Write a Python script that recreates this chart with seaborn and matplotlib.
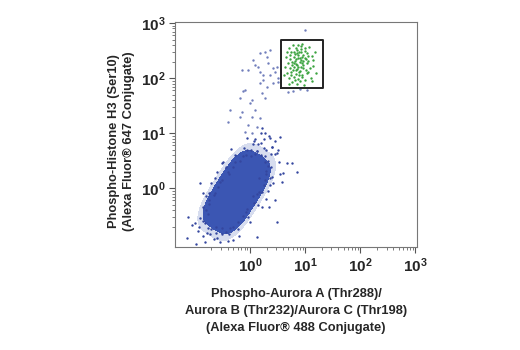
import matplotlib
matplotlib.use("Agg")
import numpy as np
import pandas as pd
import seaborn as sns
import matplotlib.pyplot as plt
from matplotlib.colors import ListedColormap
from matplotlib.ticker import FixedLocator, FuncFormatter, NullFormatter
from matplotlib import font_manager

# ---------------- data (log10 fluorescence) ----------------
# dense G1/G2 population core (representative events)
core_log_x = [-0.68, -0.32, -0.50, -0.55, -0.19, -0.37, -0.42, -0.24, -0.06,
              -0.29, -0.11, 0.07, -0.16, 0.02, 0.20]
core_log_y = [-0.37, -0.60, -0.49, -0.17, -0.39, -0.28, 0.04, -0.07, -0.18,
              0.25, 0.14, 0.03, 0.46, 0.35, 0.23]

# sparse events scattered around the main population
halo_events = [
    (0.26, 0.73), (0.37, 0.91), (0.28, 0.59), (0.40, 0.75), (0.55, 0.93),
    (0.33, 0.50), (0.46, 0.63), (0.29, 0.32), (0.39, 0.39), (0.52, 0.48),
    (0.27, 0.15), (0.36, 0.19), (0.54, 0.26), (0.16, -0.06), (0.22, -0.06),
    (0.32, -0.05), (0.07, -0.26), (0.14, -0.31), (0.21, -0.35), (-0.08, -0.44),
    (-0.04, -0.53), (0.00, -0.61), (-0.21, -0.62), (-0.21, -0.75), (-0.20, -0.87),
    (-0.36, -0.72), (-0.38, -0.84), (-0.40, -0.96), (-0.50, -0.83), (-0.55, -0.97),
    (-0.61, -0.82), (-0.66, -0.93), (-0.72, -0.84), (-0.81, -0.98), (-0.76, -0.73),
    (-0.86, -0.86), (-0.98, -1.01), (-0.81, -0.64), (-0.94, -0.77), (-0.77, -0.46),
    (-0.90, -0.55), (-1.05, -0.66), (-0.75, -0.29), (-0.86, -0.34), (-0.64, -0.08),
    (-0.74, -0.09), (-0.85, -0.09), (-0.55, 0.12), (-0.63, 0.18), (-0.40, 0.30),
    (-0.44, 0.39), (-0.48, 0.47), (-0.27, 0.48), (-0.27, 0.61), (-0.12, 0.58),
    (-0.10, 0.73), (-0.06, 0.92), (0.02, 0.69), (0.08, 0.86), (0.13, 0.68),
    (0.20, 0.83), (0.28, 1.01), (-1.13, -0.53), (-1.00, -0.64), (-1.15, -0.91),
    (-0.91, 0.09), (0.13, -0.89), (0.49, -0.62), (0.49, 0.64), (0.67, 0.45),
    (0.76, 0.45), (0.85, 0.29), (0.60, 0.27), (0.58, 0.11), (0.36, 0.05),
    (0.45, -0.22), (0.20, 1.00), (0.25, 0.90), (0.15, 0.80), (0.35, 0.95),
    (0.10, 0.90), (0.05, 0.80), (0.40, 0.75), (0.45, 0.85), (0.22, 1.10),
    (-0.05, 0.70), (0.30, 0.70), (0.38, 0.62), (0.50, 0.70), (0.12, 0.68),
    (-0.60, 0.30), (-0.50, 0.45), (-0.70, 0.10), (-0.35, 0.72), (-0.80, -0.15),
    (-0.30, -0.95), (-0.60, -0.90), (0.30, -0.20), (0.35, -0.35), (0.40, 0.20),
    (-0.70, -0.75), (-0.62, -0.70), (-0.50, -0.72), (-0.44, -0.80), (-0.30, -0.70),
    (-0.12, -0.50), (-0.05, -0.38), (0.05, -0.15), (0.12, -0.10), (0.25, 0.05),
    (0.30, 0.25), (0.32, 0.40), (0.28, 0.48), (0.20, 0.60), (0.10, 0.62),
    (0.02, 0.58), (-0.08, 0.60), (-0.18, 0.50), (-0.30, 0.38), (-0.38, 0.25),
    (-0.50, 0.15), (-0.58, 0.02), (-0.66, -0.12), (-0.74, -0.22), (-0.80, -0.40),
    (-0.85, -0.60), (-0.78, -0.82), (-0.92, -0.70), (0.17, 0.18), (0.42, 0.10),
]

# mitotic tail rising toward the gated population
tail_events = [
    (-0.40, 1.20), (-0.15, 1.38), (-0.36, 1.42), (-0.18, 1.64), (-0.09, 1.78),
    (-0.13, 1.76), (0.04, 1.60), (0.00, 1.55), (0.18, 1.91), (0.24, 1.96),
    (0.15, 2.20), (0.18, 2.45), (0.27, 2.47), (0.31, 2.38), (0.36, 2.51),
    (0.33, 2.27), (0.42, 2.18), (0.45, 2.11), (0.49, 2.20), (0.51, 2.00),
    (0.51, 1.93), (-0.15, 2.15), (-0.04, 2.15), (0.09, 2.24), (0.05, 2.33),
    (0.18, 2.11), (0.24, 2.05), (0.36, 2.05), (0.31, 1.84), (0.42, 1.91),
    (0.22, 1.73), (0.27, 1.64), (0.09, 1.42), (0.04, 1.29), (-0.04, 1.15),
    (0.13, 1.11), (0.18, 1.27), (-0.09, 1.02), (-0.18, 1.29), (0.04, 1.00),
    (0.69, 1.75), (1.04, 1.78), (0.91, 1.80), (1.00, 2.87), (0.78, 1.77),
]

# events inside the gate (phospho-H3+ / phospho-Aurora+)
gate_events = [
    (0.70, 2.55), (0.78, 2.60), (0.85, 2.52), (0.92, 2.58), (1.00, 2.50), (1.08, 2.56),
    (0.74, 2.47), (0.82, 2.44), (0.89, 2.48), (0.96, 2.42), (1.03, 2.45), (1.12, 2.40),
    (0.66, 2.38), (0.73, 2.35), (0.80, 2.39), (0.87, 2.36), (0.93, 2.33), (0.99, 2.37),
    (1.06, 2.31), (0.69, 2.27), (0.76, 2.30), (0.84, 2.26), (0.90, 2.29), (0.97, 2.24),
    (1.04, 2.27), (1.14, 2.22), (0.72, 2.19), (0.79, 2.21), (0.86, 2.17), (0.92, 2.20),
    (1.01, 2.15), (1.09, 2.18), (0.68, 2.10), (0.75, 2.12), (0.83, 2.08), (0.89, 2.11),
    (0.95, 2.06), (1.03, 2.09), (0.71, 2.01), (0.80, 2.03), (0.87, 1.99), (0.94, 2.02),
    (1.00, 1.96), (1.10, 2.00), (0.77, 1.93), (0.85, 1.90), (0.91, 1.94), (0.98, 1.88),
    (0.83, 2.55), (0.95, 2.62), (0.88, 2.42), (0.81, 2.32), (0.94, 2.38), (0.86, 2.24),
    (0.78, 2.15), (0.91, 2.13), (0.97, 2.31), (0.84, 2.34), (0.76, 2.24), (0.89, 2.05),
    (1.06, 2.40), (1.15, 2.33), (0.64, 2.20), (0.73, 2.42), (0.99, 2.55), (0.80, 2.48),
    (0.93, 2.47), (0.87, 2.60), (1.05, 2.12), (0.74, 2.06), (0.82, 1.97), (0.96, 2.18),
    (1.02, 2.35), (0.90, 2.37), (0.85, 2.45), (0.79, 2.27), (0.95, 2.27), (0.88, 2.20),
    (0.83, 2.14), (0.92, 2.53), (1.18, 2.47), (0.67, 2.48), (1.20, 2.10), (0.62, 2.05),
    (1.12, 1.95), (0.70, 1.90),
]

gate_x = [3.6, 21.0]     # gate bounds on x (linear units)
gate_y = [66.0, 500.0]   # gate bounds on y (linear units)

x_major = [1, 10, 100, 1000]
y_major = [1, 10, 100, 1000]

x_label = "Phospho-Aurora A (Thr288)/\nAurora B (Thr232)/Aurora C (Thr198)\n(Alexa Fluor\u00ae 488 Conjugate)"
y_label = "Phospho-Histone H3 (Ser10)\n(Alexa Fluor\u00ae 647 Conjugate)"

# ---------------- style ----------------
sns.set_style("ticks")

def has_font(name):
    try:
        font_manager.findfont(font_manager.FontProperties(family=name), fallback_to_default=False)
        return True
    except Exception:
        return False

main_font = "Liberation Sans Narrow" if has_font("Liberation Sans Narrow") else "Liberation Sans"
plt.rcParams['font.family'] = [main_font, 'DejaVu Sans']
plt.rcParams['mathtext.fontset'] = 'custom'
plt.rcParams['mathtext.rm'] = main_font + ':bold'
plt.rcParams['mathtext.it'] = main_font + ':bold'
plt.rcParams['mathtext.bf'] = main_font + ':bold'

BLUE_CORE = "#3b56b3"
BLUE_DOT = "#34469f"
GREEN = "#3aa33f"

def to_df(events):
    arr = np.array(events, dtype=float)
    return pd.DataFrame({"x": 10 ** arr[:, 0], "y": 10 ** arr[:, 1]})

core_df = pd.DataFrame({"x": 10 ** np.array(core_log_x), "y": 10 ** np.array(core_log_y)})
halo_df = to_df(halo_events)
tail_df = to_df(tail_events)
gate_df = to_df(gate_events)

fig = plt.figure(figsize=(5.2, 3.5), dpi=100)
ax = fig.add_axes([0.3365, 0.294, 0.4654, 0.643])

# faint fringe of the population, then the dense core
sns.kdeplot(data=core_df, x="x", y="y", log_scale=True, fill=True, bw_adjust=1.1,
            levels=[0.05, 1.0], cmap=ListedColormap([BLUE_CORE]), alpha=0.2, ax=ax)
sns.kdeplot(data=core_df, x="x", y="y", log_scale=True, fill=True, bw_adjust=1.1,
            levels=[0.13, 1.0], cmap=ListedColormap([BLUE_CORE]), ax=ax)
sns.scatterplot(data=halo_df, x="x", y="y", s=3, color=BLUE_DOT, linewidth=0, ax=ax)
sns.scatterplot(data=tail_df, x="x", y="y", s=3, color=BLUE_DOT, linewidth=0, alpha=0.7, ax=ax)
sns.scatterplot(data=gate_df, x="x", y="y", s=3, color=GREEN, linewidth=0, ax=ax)

gx0, gx1 = gate_x
gy0, gy1 = gate_y
ax.plot([gx0, gx1, gx1, gx0, gx0], [gy0, gy0, gy1, gy1, gy0], color="#222222", lw=1.4)

ax.set_xscale("log")
ax.set_yscale("log")
ax.set_xlim(10 ** -1.36, 10 ** 3.03)
ax.set_ylim(10 ** -1.07, 10 ** 3.02)

def minor_list(lo_exp, hi_exp):
    out = []
    for e in range(lo_exp, hi_exp):
        for m in range(2, 10):
            out.append(m * 10.0 ** e)
    return out

ax.xaxis.set_major_locator(FixedLocator(x_major))
ax.yaxis.set_major_locator(FixedLocator(y_major))
ax.xaxis.set_minor_locator(FixedLocator(minor_list(-1, 3)))
ax.yaxis.set_minor_locator(FixedLocator(minor_list(-1, 3)))
fmt = FuncFormatter(lambda v, p: r"$\mathrm{10^{%d}}$" % int(round(np.log10(v))))
ax.xaxis.set_major_formatter(fmt)
ax.yaxis.set_major_formatter(fmt)
ax.xaxis.set_minor_formatter(NullFormatter())
ax.yaxis.set_minor_formatter(NullFormatter())

ax.tick_params(which="major", direction="out", length=4, width=0.8, color="#555555",
               labelsize=11, pad=3)
ax.tick_params(which="minor", direction="out", length=2.5, width=0.6, color="#666666")

for s in ax.spines.values():
    s.set_visible(True)
    s.set_color("#777777")
    s.set_linewidth(0.8)

ax.set_xlabel(x_label, fontsize=9.3, fontweight="bold", linespacing=1.58)
ax.set_ylabel(y_label, fontsize=9.3, fontweight="bold", linespacing=1.35)
ax.xaxis.set_label_coords(0.5, -0.18)
ax.yaxis.set_label_coords(-0.165, 0.47)

fig.savefig("out.png", dpi=100)
